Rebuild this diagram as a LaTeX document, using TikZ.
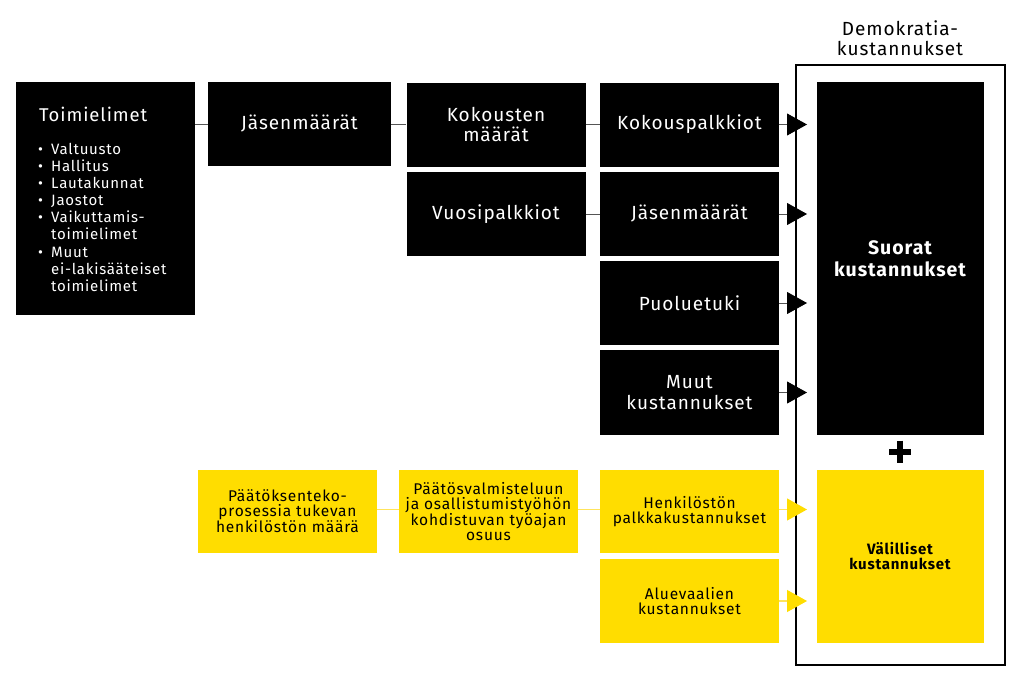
\documentclass[tikz,border=0pt]{standalone}
\usepackage{fontspec}
\setmainfont{Fira Sans}[LetterSpace=5]
\usetikzlibrary{arrows.meta}
\definecolor{ylw}{HTML}{FFDD00}
\definecolor{ylwline}{HTML}{FFE45C}
\definecolor{conn}{HTML}{555555}
\begin{document}
\begin{tikzpicture}[x=1pt,y=-1pt,
  blk/.style={fill=black,text=white,draw=none,align=center,inner sep=0pt,
    minimum width=179pt,minimum height=84pt,font=\fontsize{19}{20.5}\selectfont},
  ybox/.style={fill=ylw,text=black,draw=none,align=center,inner sep=0pt,
    minimum width=179pt,minimum height=83pt,font=\fontsize{15.5}{15}\selectfont},
  cline/.style={draw=conn,line width=0.8pt},
  yline/.style={draw=ylwline,line width=1.2pt},
  barrow/.style={draw=conn,line width=0.8pt,-{Triangle[width=22pt,length=20pt,fill=black,color=black]}},
  yarrow/.style={draw=ylwline,line width=1.2pt,-{Triangle[width=22pt,length=20pt,fill=ylw,color=ylw]}}
]
\useasboundingbox (0,0) rectangle (1024,685);
% outer frame
\node[draw=black,line width=2pt,minimum width=209pt,minimum height=600pt,inner sep=0pt] (frame) at (900.5,364.5) {};
\node[font=\fontsize{19}{20.5}\selectfont,align=center] (demo) at (900,38) {Demokratia-\\kustannukset};
% black boxes
\node[blk,minimum height=233pt] (toim) at (105.5,198.5) {};
\node[anchor=west,text=white,font=\fontsize{18.5}{20}\selectfont,inner sep=0pt] (toimt) at (39,114) {Toimielimet};
\node[anchor=north west,text=white,align=left,inner sep=0pt,
  font=\fontsize{15}{17.1}\selectfont] (toiml) at (38,143) {%
\makebox[13pt][l]{•}Valtuusto\\
\makebox[13pt][l]{•}Hallitus\\
\makebox[13pt][l]{•}Lautakunnat\\
\makebox[13pt][l]{•}Jaostot\\
\makebox[13pt][l]{•}Vaikuttamis-\\
\hspace*{13pt}toimielimet\\
\makebox[13pt][l]{•}Muut\\
\hspace*{13pt}ei-lakisääteiset\\
\hspace*{13pt}toimielimet};
\node[blk,minimum width=183pt] (jas1) at (299.5,124) {Jäsenmäärät};
\node[blk] (kok) at (496,124.5) {Kokousten\\määrät};
\node[blk] (vuo) at (496,214) {Vuosipalkkiot};
\node[blk] (kp) at (689.5,124.5) {Kokouspalkkiot};
\node[blk] (jas2) at (689.5,214) {Jäsenmäärät};
\node[blk] (puo) at (689.5,303) {Puoluetuki};
\node[blk,minimum height=85pt] (muu) at (689.5,392.5) {Muut\\kustannukset};
\node[blk,minimum width=167pt,minimum height=353pt,font=\bfseries\fontsize{19.5}{21.5}\selectfont] (suo) at (900,258.5) {Suorat\\kustannukset};
% yellow boxes
\node[ybox] (pk) at (287.5,511) {Päätöksenteko-\\prosessia tukevan\\henkilöstön määrä};
\node[ybox] (pv) at (488.5,511.5) {Päätösvalmisteluun\\ja osallistumistyöhön\\kohdistuvan työajan\\osuus};
\node[ybox] (hen) at (689.5,511.5) {Henkilöstön\\palkkakustannukset};
\node[ybox,minimum height=84pt] (alu) at (689.5,601) {Aluevaalien\\kustannukset};
\node[ybox,minimum width=167pt,minimum height=173pt,font=\bfseries\fontsize{15}{15}\selectfont] (val) at (900,556.5) {Välilliset\\kustannukset};
% plus sign
\draw[line width=6pt] (889,451.5) -- (911,451.5);
\draw[line width=6pt] (900,440.5) -- (900,462.5);
% connectors
\draw[cline] (toim.east |- jas1) -- (jas1.west);
\draw[cline] (jas1.east) -- (kok.west |- jas1);
\draw[cline] (kok.east) -- (kp.west);
\draw[cline] (vuo.east) -- (jas2.west);
\coordinate (a1) at (807,124.5);
\coordinate (a2) at (807,214);
\coordinate (a3) at (807,303);
\coordinate (a4) at (807,392.5);
\coordinate (a5) at (807,509.5);
\coordinate (a6) at (807,601);
\draw[barrow] (kp.east) -- (a1);
\draw[barrow] (jas2.east) -- (a2);
\draw[barrow] (puo.east) -- (a3);
\draw[barrow] (muu.east) -- (a4);
\draw[yline] (pk.east |- 0,509.5) -- (pv.west |- 0,509.5);
\draw[yline] (pv.east |- 0,509.5) -- (hen.west |- 0,509.5);
\draw[yarrow] (hen.east |- a5) -- (a5);
\draw[yarrow] (alu.east) -- (a6);
\end{tikzpicture}
\end{document}
